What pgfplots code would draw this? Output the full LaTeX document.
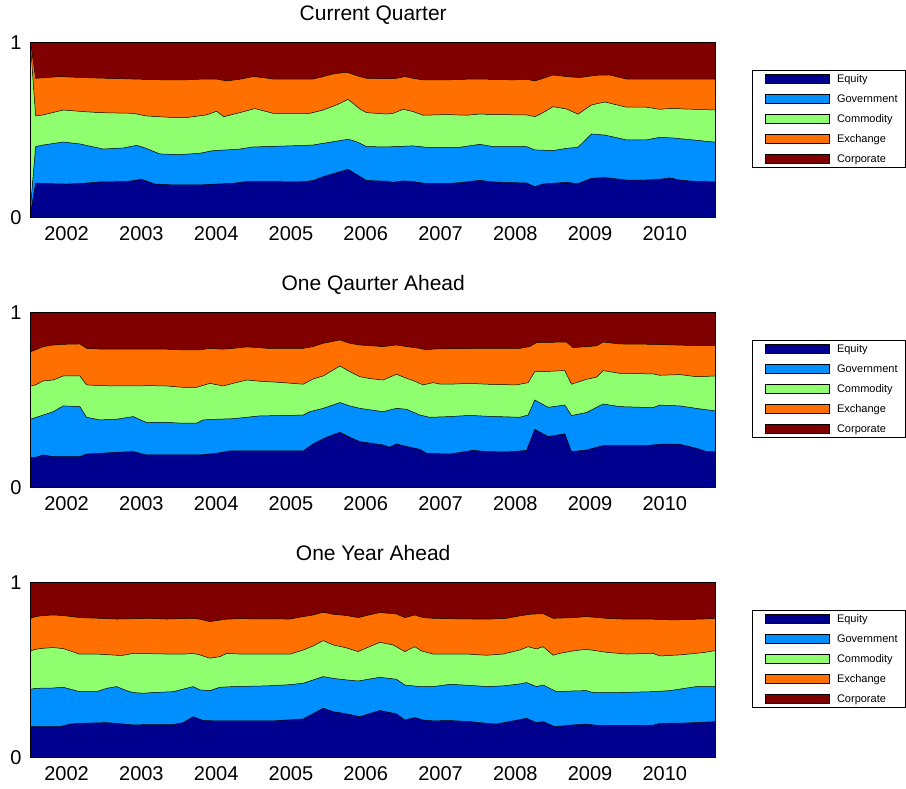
\documentclass[border=0pt]{standalone}
\usepackage{fontspec}
\setmainfont{Liberation Sans}
\usepackage{pgfplots}
\pgfplotsset{compat=1.18}
\definecolor{cEq}{rgb}{0,0,0.5625}
\definecolor{cGov}{rgb}{0,0.5625,1}
\definecolor{cCom}{rgb}{0.5625,1,0.4375}
\definecolor{cExc}{rgb}{1,0.4375,0}
\definecolor{cCor}{rgb}{0.5,0,0}
\newcommand{\ls}{\rule[-3.9pt]{0pt}{13pt}}
\pgfplotsset{
  panel/.style={
    width=685pt, height=175pt, scale only axis,
    xmin=2001.52, xmax=2010.68, ymin=0, ymax=1,
    axis on top,
    xtick={2002,2003,2004,2005,2006,2007,2008,2009,2010},
    xticklabels={2002,2003,2004,2005,2006,2007,2008,2009,2010},
    ytick={0,1}, yticklabels={0,1},
    major tick length=0pt,
    tick label style={font=\fontsize{20}{24}\selectfont},
    xticklabel style={anchor=base, yshift=-23.5pt, inner sep=0pt},
    yticklabel style={anchor=east, xshift=-9pt, inner sep=0pt},
    title style={font=\fontsize{21}{25}\selectfont, at={(0.5,1)}, anchor=base, yshift=16pt},
    axis line style={line width=0.7pt},
    reverse legend,
    legend image code/.code={\path (0pt,0pt); \draw[##1] (4pt,-4.5pt) rectangle (68pt,4.5pt);},
    legend style={at={(1.0534,0.84)}, anchor=north west, draw=black, line width=0.5pt,
      fill=white, font=\fontsize{11}{13}\selectfont, inner xsep=8pt, inner ysep=2.5pt,
      row sep=9.6pt, column sep=8pt, nodes={inner sep=0pt}, cells={anchor=west}},
  },
  ar/.style={draw=black, line width=0.5pt, fill=#1},
}
\begin{document}
\begin{tikzpicture}
\useasboundingbox (0pt,0pt) rectangle (906pt,789pt);

% ---------------- Current Quarter ----------------
\begin{axis}[panel, at={(30.7pt,571.7pt)}, anchor=south west, title={Current Quarter}]
\addplot[ar=cCor] coordinates {(2001.52,1) (2010.68,1)} \closedcycle;
\addlegendentry{Corporate\ls}
\addplot[ar=cExc] coordinates {
(2001.52,0.995) (2001.586,0.794) (2001.910,0.804) (2002.222,0.798) (2002.890,0.790) (2003.337,0.785)
(2003.559,0.785) (2003.782,0.789) (2004.005,0.790) (2004.139,0.779) (2004.317,0.789) (2004.495,0.804)
(2004.628,0.798) (2004.762,0.790) (2005.119,0.790) (2005.297,0.790) (2005.431,0.804) (2005.564,0.819)
(2005.743,0.829) (2005.921,0.804) (2006.011,0.794) (2006.278,0.792) (2006.412,0.794) (2006.523,0.804)
(2006.634,0.794) (2006.768,0.785) (2007.080,0.785) (2007.348,0.789) (2007.615,0.789) (2007.971,0.785)
(2008.150,0.789) (2008.261,0.779) (2008.372,0.794) (2008.505,0.813) (2008.684,0.804) (2008.862,0.798)
(2009.019,0.808) (2009.130,0.813) (2009.262,0.813) (2009.487,0.790) (2009.754,0.790) (2010.68,0.790)
} \closedcycle;
\addlegendentry{Exchange\ls}
\addplot[ar=cCom] coordinates {
(2001.52,0.97) (2001.586,0.579) (2001.687,0.585) (2001.955,0.613) (2002.222,0.604) (2002.445,0.598)
(2002.890,0.594) (2003.070,0.579) (2003.425,0.570) (2003.604,0.570) (2003.872,0.585) (2004.005,0.606)
(2004.103,0.575) (2004.317,0.598) (2004.517,0.621) (2004.674,0.604) (2004.762,0.594) (2005.253,0.594)
(2005.431,0.613) (2005.610,0.642) (2005.765,0.674) (2005.921,0.619) (2006.011,0.598) (2006.278,0.590)
(2006.366,0.594) (2006.500,0.617) (2006.634,0.604) (2006.768,0.583) (2007.080,0.587) (2007.348,0.583)
(2007.525,0.590) (2007.703,0.587) (2008.150,0.585) (2008.261,0.575) (2008.372,0.598) (2008.505,0.632)
(2008.684,0.619) (2008.839,0.589) (2009.019,0.642) (2009.197,0.659) (2009.487,0.629) (2009.754,0.629)
(2009.932,0.617) (2010.110,0.623) (2010.243,0.619) (2010.68,0.613)
} \closedcycle;
\addlegendentry{Commodity\ls}
\addplot[ar=cGov] coordinates {
(2001.52,0.07) (2001.586,0.404) (2001.687,0.413) (2001.955,0.430) (2002.178,0.419) (2002.489,0.390)
(2002.757,0.396) (2002.936,0.411) (2003.024,0.400) (2003.247,0.362) (2003.515,0.358) (2003.782,0.366)
(2003.960,0.381) (2004.139,0.385) (2004.317,0.390) (2004.495,0.402) (2004.674,0.404) (2005.119,0.410)
(2005.297,0.413) (2005.564,0.432) (2005.765,0.446) (2005.877,0.432) (2006.011,0.404) (2006.278,0.402)
(2006.634,0.408) (2006.813,0.400) (2007.258,0.400) (2007.525,0.417) (2007.703,0.404) (2008.150,0.404)
(2008.261,0.385) (2008.505,0.381) (2008.684,0.394) (2008.839,0.400) (2009.019,0.476) (2009.197,0.470)
(2009.487,0.442) (2009.754,0.442) (2009.932,0.457) (2010.110,0.453) (2010.377,0.442) (2010.68,0.429)
} \closedcycle;
\addlegendentry{Government\ls}
\addplot[ar=cEq] coordinates {
(2001.52,0.03) (2001.586,0.194) (2002.000,0.190) (2002.222,0.194) (2002.445,0.202) (2002.802,0.204)
(2003.003,0.217) (2003.180,0.190) (2003.425,0.185) (2003.782,0.185) (2004.005,0.190) (2004.227,0.194)
(2004.406,0.204) (2004.674,0.204) (2005.119,0.202) (2005.297,0.210) (2005.431,0.232) (2005.610,0.255)
(2005.765,0.274) (2006.011,0.210) (2006.278,0.206) (2006.366,0.200) (2006.500,0.208) (2006.634,0.204)
(2006.813,0.192) (2007.080,0.192) (2007.258,0.198) (2007.525,0.211) (2007.703,0.202) (2007.971,0.198)
(2008.150,0.196) (2008.261,0.175) (2008.372,0.190) (2008.684,0.200) (2008.839,0.192) (2009.019,0.223)
(2009.197,0.227) (2009.487,0.213) (2009.754,0.213) (2009.932,0.217) (2010.066,0.225) (2010.199,0.213)
(2010.377,0.206) (2010.68,0.202)
} \closedcycle;
\addlegendentry{Equity\ls}
\end{axis}

% ---------------- One Quarter Ahead ----------------
\begin{axis}[panel, at={(30.7pt,301.7pt)}, anchor=south west, title={One Qaurter Ahead}]
\addplot[ar=cCor] coordinates {(2001.52,1) (2010.68,1)} \closedcycle;
\addlegendentry{Corporate\ls}
\addplot[ar=cExc] coordinates {
(2001.52,0.775) (2001.585,0.785) (2001.688,0.804) (2001.821,0.813) (2001.955,0.817) (2002.178,0.819)
(2002.267,0.794) (2002.445,0.790) (2002.668,0.789) (2002.891,0.789) (2003.114,0.790) (2003.337,0.789)
(2003.559,0.785) (2003.782,0.785) (2003.916,0.794) (2004.094,0.789) (2004.228,0.794) (2004.406,0.802)
(2004.584,0.798) (2004.673,0.794) (2005.164,0.794) (2005.297,0.804) (2005.431,0.823) (2005.654,0.842)
(2005.787,0.823) (2005.921,0.813) (2006.233,0.804) (2006.411,0.813) (2006.545,0.804) (2006.723,0.794)
(2006.813,0.785) (2006.902,0.790) (2007.125,0.792) (2007.615,0.794) (2008.060,0.794) (2008.194,0.804)
(2008.283,0.827) (2008.684,0.830) (2008.773,0.798) (2009.085,0.808) (2009.174,0.830) (2009.397,0.819)
(2009.843,0.817) (2010.377,0.810) (2010.68,0.810)
} \closedcycle;
\addlegendentry{Exchange\ls}
\addplot[ar=cCom] coordinates {
(2001.52,0.579) (2001.585,0.585) (2001.688,0.608) (2001.821,0.613) (2001.955,0.636) (2002.178,0.636)
(2002.267,0.585) (2002.445,0.581) (2002.668,0.579) (2002.891,0.579) (2003.114,0.581) (2003.337,0.579)
(2003.559,0.571) (2003.738,0.571) (2003.916,0.594) (2004.094,0.579) (2004.228,0.594) (2004.406,0.613)
(2004.584,0.606) (2004.673,0.604) (2004.896,0.598) (2005.164,0.589) (2005.297,0.619) (2005.431,0.636)
(2005.654,0.693) (2005.787,0.661) (2005.921,0.632) (2006.055,0.621) (2006.233,0.613) (2006.411,0.646)
(2006.545,0.623) (2006.634,0.610) (2006.768,0.585) (2006.902,0.598) (2006.991,0.590) (2007.125,0.589)
(2007.392,0.594) (2007.615,0.589) (2008.016,0.585) (2008.172,0.598) (2008.261,0.661) (2008.372,0.661)
(2008.662,0.667) (2008.751,0.589) (2008.951,0.617) (2009.085,0.629) (2009.174,0.667) (2009.397,0.651)
(2009.843,0.648) (2009.932,0.640) (2010.199,0.644) (2010.422,0.632) (2010.68,0.636)
} \closedcycle;
\addlegendentry{Commodity\ls}
\addplot[ar=cGov] coordinates {
(2001.52,0.390) (2001.585,0.398) (2001.688,0.413) (2001.821,0.432) (2001.955,0.465) (2002.178,0.461)
(2002.267,0.400) (2002.445,0.385) (2002.668,0.389) (2002.891,0.404) (2003.069,0.370) (2003.337,0.371)
(2003.559,0.366) (2003.738,0.366) (2003.827,0.385) (2004.005,0.389) (2004.228,0.392) (2004.406,0.400)
(2004.584,0.408) (2004.896,0.410) (2005.164,0.413) (2005.253,0.432) (2005.431,0.451) (2005.654,0.484)
(2005.787,0.465) (2005.921,0.451) (2006.233,0.432) (2006.411,0.451) (2006.545,0.446) (2006.723,0.413)
(2006.857,0.400) (2007.125,0.404) (2007.392,0.411) (2007.615,0.406) (2008.060,0.400) (2008.172,0.413)
(2008.261,0.499) (2008.439,0.457) (2008.662,0.470) (2008.751,0.410) (2008.951,0.427) (2009.174,0.476)
(2009.397,0.461) (2009.843,0.455) (2009.932,0.470) (2010.199,0.465) (2010.422,0.451) (2010.68,0.436)
} \closedcycle;
\addlegendentry{Government\ls}
\addplot[ar=cEq] coordinates {
(2001.52,0.171) (2001.585,0.171) (2001.688,0.185) (2001.821,0.175) (2002.178,0.175) (2002.267,0.190)
(2002.445,0.194) (2002.668,0.200) (2002.891,0.204) (2003.069,0.185) (2003.782,0.185) (2004.005,0.194)
(2004.183,0.208) (2005.164,0.208) (2005.297,0.248) (2005.476,0.286) (2005.654,0.314) (2005.787,0.286)
(2005.921,0.261) (2006.233,0.242) (2006.322,0.229) (2006.411,0.248) (2006.590,0.229) (2006.723,0.217)
(2006.813,0.194) (2007.125,0.190) (2007.436,0.211) (2007.615,0.204) (2007.882,0.202) (2008.150,0.210)
(2008.261,0.331) (2008.439,0.290) (2008.662,0.305) (2008.751,0.204) (2008.951,0.213) (2009.174,0.238)
(2009.754,0.238) (2009.932,0.246) (2010.199,0.246) (2010.422,0.223) (2010.556,0.204) (2010.68,0.204)
} \closedcycle;
\addlegendentry{Equity\ls}
\end{axis}

% ---------------- One Year Ahead ----------------
\begin{axis}[panel, at={(30.7pt,31.7pt)}, anchor=south west, title={One Year Ahead}]
\addplot[ar=cCor] coordinates {(2001.52,1) (2010.68,1)} \closedcycle;
\addlegendentry{Corporate\ls}
\addplot[ar=cExc] coordinates {
(2001.52,0.794) (2001.585,0.804) (2001.688,0.810) (2001.821,0.813) (2001.955,0.810) (2002.178,0.798)
(2002.445,0.794) (2002.668,0.790) (2002.891,0.792) (2003.114,0.794) (2003.337,0.790) (2003.693,0.794)
(2003.782,0.789) (2003.916,0.775) (2004.005,0.781) (2004.139,0.789) (2004.317,0.792) (2004.985,0.790)
(2005.164,0.804) (2005.297,0.813) (2005.431,0.829) (2005.565,0.817) (2005.743,0.810) (2005.899,0.798)
(2006.011,0.810) (2006.189,0.827) (2006.411,0.819) (2006.523,0.798) (2006.656,0.813) (2006.768,0.798)
(2006.902,0.794) (2007.125,0.792) (2007.615,0.789) (2007.882,0.794) (2008.060,0.808) (2008.194,0.817)
(2008.372,0.821) (2008.506,0.794) (2008.773,0.798) (2008.951,0.804) (2009.219,0.794) (2009.486,0.789)
(2009.843,0.789) (2010.110,0.785) (2010.511,0.790) (2010.68,0.794)
} \closedcycle;
\addlegendentry{Exchange\ls}
\addplot[ar=cCom] coordinates {
(2001.52,0.608) (2001.585,0.617) (2001.688,0.623) (2001.821,0.627) (2001.955,0.621) (2002.178,0.589)
(2002.445,0.589) (2002.668,0.583) (2002.757,0.583) (2002.891,0.594) (2003.337,0.590) (2003.559,0.589)
(2003.693,0.594) (2003.782,0.585) (2003.916,0.566) (2004.050,0.575) (2004.139,0.594) (2004.317,0.590)
(2004.985,0.589) (2005.164,0.613) (2005.297,0.636) (2005.431,0.667) (2005.565,0.642) (2005.743,0.625)
(2005.899,0.604) (2006.011,0.625) (2006.189,0.657) (2006.367,0.642) (2006.523,0.604) (2006.656,0.632)
(2006.745,0.608) (2006.902,0.590) (2007.125,0.589) (2007.392,0.589) (2007.615,0.583) (2007.837,0.590)
(2008.060,0.613) (2008.172,0.632) (2008.283,0.619) (2008.372,0.632) (2008.506,0.583) (2008.595,0.594)
(2008.773,0.608) (2008.951,0.617) (2009.219,0.600) (2009.486,0.590) (2009.843,0.594) (2009.932,0.579)
(2010.199,0.585) (2010.511,0.598) (2010.68,0.610)
} \closedcycle;
\addlegendentry{Commodity\ls}
\addplot[ar=cGov] coordinates {
(2001.52,0.389) (2001.585,0.394) (2001.821,0.396) (2001.955,0.400) (2002.178,0.375) (2002.401,0.375)
(2002.534,0.394) (2002.668,0.404) (2002.802,0.381) (2002.891,0.370) (2003.024,0.366) (2003.158,0.370)
(2003.426,0.375) (2003.515,0.385) (2003.693,0.404) (2003.782,0.385) (2003.916,0.381) (2004.050,0.400)
(2004.228,0.404) (2004.673,0.408) (2004.985,0.415) (2005.164,0.423) (2005.431,0.461) (2005.565,0.451)
(2005.743,0.442) (2005.899,0.436) (2006.189,0.457) (2006.411,0.446) (2006.523,0.413) (2006.723,0.404)
(2006.902,0.404) (2007.125,0.417) (2007.392,0.411) (2007.615,0.404) (2007.837,0.408) (2008.060,0.419)
(2008.150,0.427) (2008.283,0.404) (2008.372,0.413) (2008.550,0.375) (2008.773,0.379) (2008.951,0.381)
(2009.040,0.370) (2009.397,0.370) (2009.843,0.375) (2010.066,0.381) (2010.422,0.404) (2010.68,0.404)
} \closedcycle;
\addlegendentry{Government\ls}
\addplot[ar=cEq] coordinates {
(2001.52,0.175) (2001.910,0.175) (2002.044,0.190) (2002.178,0.194) (2002.534,0.198) (2002.713,0.192)
(2002.891,0.185) (2003.114,0.187) (2003.426,0.187) (2003.559,0.198) (2003.693,0.232) (2003.827,0.210)
(2004.005,0.208) (2004.762,0.208) (2004.941,0.213) (2005.164,0.219) (2005.431,0.280) (2005.565,0.261)
(2005.743,0.248) (2005.921,0.232) (2006.189,0.267) (2006.411,0.248) (2006.523,0.213) (2006.656,0.227)
(2006.768,0.213) (2006.902,0.208) (2007.125,0.210) (2007.392,0.204) (2007.615,0.194) (2007.748,0.190)
(2007.971,0.208) (2008.150,0.223) (2008.283,0.198) (2008.372,0.204) (2008.528,0.175) (2008.773,0.185)
(2008.951,0.190) (2009.085,0.183) (2009.843,0.183) (2009.932,0.194) (2010.288,0.196) (2010.68,0.204)
} \closedcycle;
\addlegendentry{Equity\ls}
\end{axis}
\end{tikzpicture}
\end{document}
